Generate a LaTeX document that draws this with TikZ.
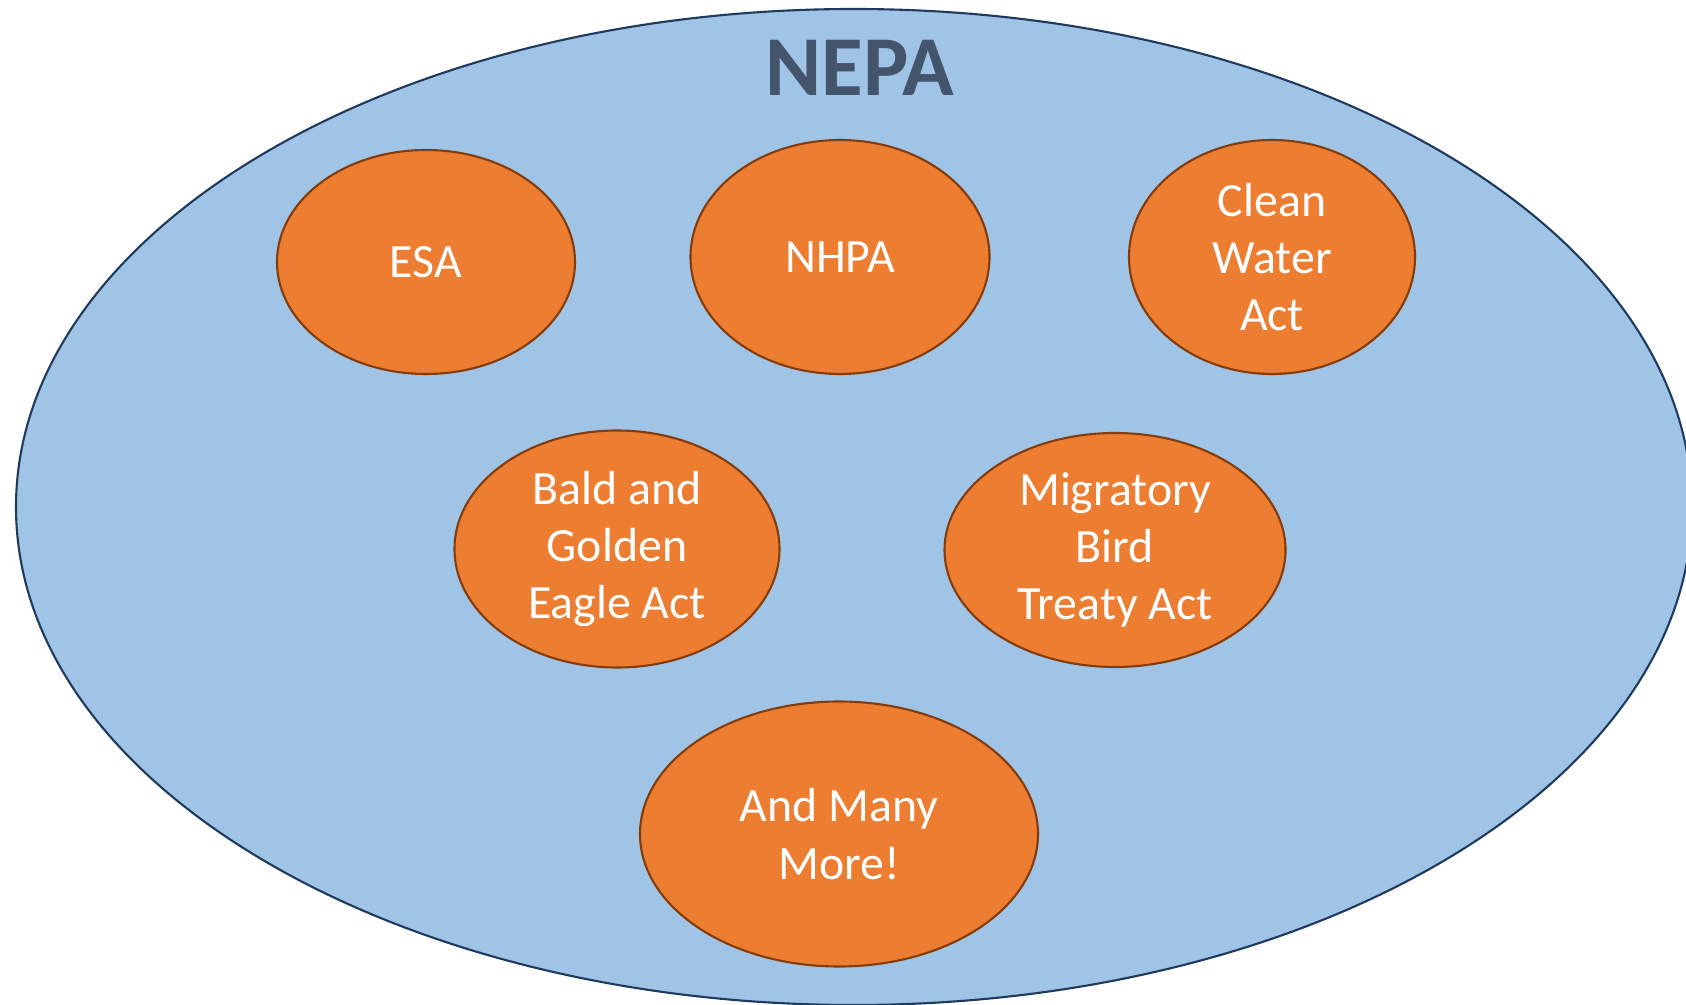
\documentclass[tikz,border=0pt]{standalone}
\usepackage{fontspec}
\setmainfont{Carlito}
\usepackage{xcolor}
\usetikzlibrary{shapes.geometric}

\definecolor{actfill}{HTML}{ED7D31}
\definecolor{actline}{HTML}{843C0C}
\definecolor{nepafill}{HTML}{9FC4E6}
\definecolor{nepaline}{HTML}{1F3A5C}
\definecolor{nepatext}{HTML}{44546A}

\begin{document}
\begin{tikzpicture}[
  umbrella/.style={draw=nepaline, line width=1.2pt, fill=nepafill, ellipse, inner sep=0pt},
  act/.style={draw=actline, line width=1.2pt, fill=actfill, ellipse, inner sep=0pt,
    align=center, text=white, font=\fontsize{27.2}{32.6}\selectfont}
]
\useasboundingbox (0,0) rectangle (33.72,20.08);
\clip (0,0) rectangle (33.72,20.08);
% outer law and its title
\node[umbrella, minimum width=33.52cm, minimum height=19.92cm] (nepa) at (17.08,9.94) {};
\node[text=nepatext, font=\fontsize{48.5}{58}\selectfont\bfseries] (title) at (17.2,18.72) {NEPA};
% laws inside
\node[act, minimum width=5.96cm, minimum height=4.48cm] (esa) at (8.52,14.84) {ESA};
\node[act, minimum width=5.98cm, minimum height=4.68cm] (nhpa) at (16.80,14.94) {NHPA};
\node[act, minimum width=5.72cm, minimum height=4.68cm] (cwa) at (25.44,14.94) {Clean\\Water\\Act};
\node[act, minimum width=6.50cm, minimum height=4.74cm] (eagle) at (12.34,9.10) {Bald and\\Golden\\Eagle Act};
\node[act, minimum width=6.82cm, minimum height=4.68cm] (mbta) at (22.30,9.08) {Migratory\\Bird\\Treaty Act};
\node[act, minimum width=7.96cm, minimum height=5.30cm] (more) at (16.78,3.40) {And Many\\More!};
\end{tikzpicture}
\end{document}
